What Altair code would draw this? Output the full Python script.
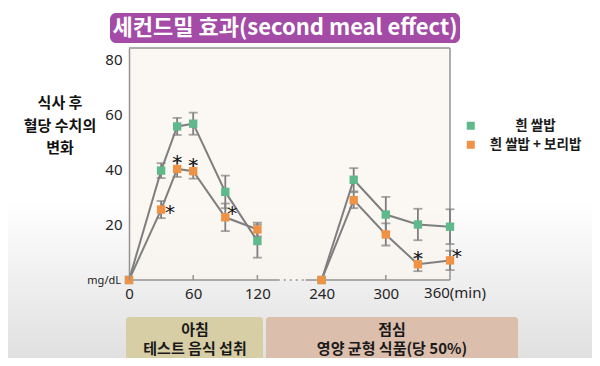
import altair as alt
import pandas as pd

# ---------------- data ----------------
series_names = ["흰 쌀밥", "흰 쌀밥 + 보리밥"]
times = [0, 30, 45, 60, 90, 120, 240, 270, 300, 330, 360]
white_rice = [0, 39.6, 55.6, 56.6, 31.9, 14.1, 0, 36.3, 23.7, 20.1, 19.3]
white_rice_err = [0, 2.7, 3.1, 4.0, 5.9, 6.0, 0, 4.2, 6.4, 5.7, 6.3]
barley_mix = [0, 25.5, 40.2, 39.4, 22.7, 18.3, 0, 28.9, 16.5, 5.7, 7.1]
barley_mix_err = [0, 3.1, 2.9, 2.7, 5.0, 2.5, 0, 2.9, 4.0, 2.5, 3.5]
star_times = [30, 45, 60, 90, 330, 360]
star_place = ["right", "above", "above", "upper", "above", "upper"]
x_tick_values = [0, 60, 120, 240, 300, 360]
x_inner_ticks = [60, 120, 300]
y_tick_values = [20, 40, 60, 80]
title_text = "세컨드밀 효과(second meal effect)"
y_title_lines = ["식사 후", "혈당 수치의", "변화"]
unit_text = "mg/dL"
min_text = "(min)"
meal_breakfast = ["아침", "테스트 음식 섭취"]
meal_lunch = ["점심", "영양 균형 식품(당 50%)"]

# ---------------- style ----------------
W, H = 321, 232
GREEN, ORANGE = "#5fb98a", "#ef9245"
LINE_GRAY = "#7f7f7f"
FRAME_GRAY = "#939393"
GAP_SHIFT = 60          # broken axis: 120..240 compressed
X_DOMAIN = [0, 300]
Y_DOMAIN = [0, 84]
KFONT = "Noto Sans CJK KR"
NFONT = "Noto Sans"

def shift(t):
    return t if t <= 120 else t - GAP_SHIFT

df = pd.DataFrame({
    "t": times * 2,
    "value": white_rice + barley_mix,
    "err": white_rice_err + barley_mix_err,
    "series": [series_names[0]] * len(times) + [series_names[1]] * len(times),
})

calc = dict(
    tx=f"datum.t > 120 ? datum.t - {GAP_SHIFT} : datum.t",
    session="datum.t > 120 ? 'lunch' : 'breakfast'",
    lo="datum.value - datum.err",
    hi="datum.value + datum.err",
)

last_tick = x_tick_values[-1]
x_axis = alt.Axis(values=[shift(v) for v in x_tick_values],
                  labelExpr=(f"datum.value + {GAP_SHIFT} == {last_tick} ? '' : "
                             f"(datum.value > 120 ? '' + (datum.value + {GAP_SHIFT}) : '' + datum.value)"),
                  domain=False, ticks=False, grid=False, title=None, zindex=1, labelFlush=False,
                  labelFontSize=15, labelColor="#262626", labelPadding=6, labelFont=NFONT)
y_axis = alt.Axis(values=y_tick_values, domain=True, domainColor=FRAME_GRAY, domainWidth=1.5,
                  ticks=False, grid=False, title=None, zindex=1, labelFontSize=15, labelColor="#262626",
                  labelPadding=7, labelFont=NFONT)
xs = alt.Scale(domain=X_DOMAIN, nice=False, zero=False)
ys = alt.Scale(domain=Y_DOMAIN, nice=False)

def X(field="tx:Q"):
    return alt.X(field, scale=xs, axis=x_axis)

def Y(field="value:Q"):
    return alt.Y(field, scale=ys, axis=y_axis)

base = alt.Chart(df).transform_calculate(**calc)

one = pd.DataFrame({"k": [0]})

# background gradient (video-like) and plot fill
bg = alt.Chart(one).mark_rect(
    color=alt.Gradient(gradient="linear", x1=0, x2=0, y1=0, y2=1,
                       stops=[alt.GradientStop(offset=0, color="#ffffff"),
                              alt.GradientStop(offset=0.55, color="#ffffff"),
                              alt.GradientStop(offset=1, color="#e0e0e0")])
).encode(x=alt.value(-121), x2=alt.value(463), y=alt.value(-40), y2=alt.value(310))
plot_bg = alt.Chart(one).mark_rect(color="#faf6f0", opacity=0.75).encode(
    x=alt.value(0), x2=alt.value(W), y=alt.value(0), y2=alt.value(H))

# frame (top / right)
frame_top = alt.Chart(one).mark_rule(color=FRAME_GRAY, strokeWidth=1.5).encode(
    x=alt.value(0), x2=alt.value(W), y=alt.value(0))
frame_right = alt.Chart(one).mark_rule(color=FRAME_GRAY, strokeWidth=1.5).encode(
    x=alt.value(W), y=alt.value(0), y2=alt.value(H))

# bottom axis with break
seg_df = pd.DataFrame({"a": [0, 165], "b": [139, 300]})
dot_df = pd.DataFrame({"a": [139], "b": [165]})
bottom_solid = alt.Chart(seg_df).mark_rule(color=FRAME_GRAY, strokeWidth=1.5).encode(
    x=X("a:Q"), x2="b:Q", y=alt.value(H))
bottom_dots = alt.Chart(dot_df).mark_rule(color=FRAME_GRAY, strokeWidth=1.5, strokeDash=[2, 4]).encode(
    x=X("a:Q"), x2="b:Q", y=alt.value(H))
tick_df = pd.DataFrame({"tx": [shift(v) for v in x_inner_ticks]})
inner_ticks = alt.Chart(tick_df).mark_rule(color=FRAME_GRAY, strokeWidth=1.5).encode(
    x=X(), y=alt.value(H), y2=alt.value(H - 5))

# error bars
eb = base.transform_filter("datum.err > 0")
err_rule = eb.mark_rule(color=LINE_GRAY, strokeWidth=1.8).encode(x=X(), y=Y("lo:Q"), y2="hi:Q")
cap_lo = eb.mark_tick(color=LINE_GRAY, orient="horizontal", size=9, thickness=1.8).encode(x=X(), y=Y("lo:Q"))
cap_hi = eb.mark_tick(color=LINE_GRAY, orient="horizontal", size=9, thickness=1.8).encode(x=X(), y=Y("hi:Q"))

# lines
lines = base.mark_line(color=LINE_GRAY, strokeWidth=2).encode(
    x=X(), y=Y(), detail=["series:N", "session:N"])

# points
points = base.mark_point(shape="square", filled=True, size=70, opacity=1).encode(
    x=X(), y=Y(),
    color=alt.Color("series:N",
                    scale=alt.Scale(domain=series_names, range=[GREEN, ORANGE]),
                    legend=alt.Legend(orient="none", legendX=335, legendY=71, title=None,
                                      symbolType="square", symbolSize=64, symbolStrokeWidth=0,
                                      labelFontSize=13.5, labelFontWeight="bold", labelFont=KFONT,
                                      labelColor="#1a1a1a", labelAlign="center", labelOffset=58,
                                      rowPadding=4, padding=0, zindex=1)))

# significance stars
star_df = pd.DataFrame({
    "t": star_times,
    "place": star_place,
    "value": [barley_mix[times.index(t)] for t in star_times],
    "err": [barley_mix_err[times.index(t)] for t in star_times],
    "s": ["*"] * len(star_times),
})
stars = alt.Chart(star_df).transform_calculate(**{k: calc[k] for k in ("tx", "hi")})
star_style = dict(font="DejaVu Sans", fontSize=20, color="#111111", baseline="alphabetic")
stars_above = stars.transform_filter("datum.place == 'above'").mark_text(dy=8, **star_style).encode(
    x=X(), y=Y("hi:Q"), text="s:N")
stars_right = stars.transform_filter("datum.place == 'right'").mark_text(dx=9, dy=9, **star_style).encode(
    x=X(), y=Y(), text="s:N")
stars_upper = stars.transform_filter("datum.place == 'upper'").mark_text(dx=7, dy=3, **star_style).encode(
    x=X(), y=Y(), text="s:N")

# title banner
title_df = pd.DataFrame({"label": [title_text]})
title_box = alt.Chart(title_df).mark_rect(color="#a34ba6", cornerRadius=6).encode(
    x=alt.value(-19), x2=alt.value(331), y=alt.value(-35), y2=alt.value(-5))
title_txt = alt.Chart(title_df).mark_text(font=KFONT, fontSize=22, fontWeight="bold", color="white",
                                          baseline="middle", align="center").encode(
    x=alt.value(156), y=alt.value(-20), text="label:N")

# y title
yt_df = pd.DataFrame({"label": ["\n".join(y_title_lines)]})
y_title = alt.Chart(yt_df).mark_text(font=KFONT, fontSize=15, fontWeight="bold", color="#111111",
                                     align="center", baseline="middle", lineBreak="\n",
                                     lineHeight=22.5).encode(
    x=alt.value(-69), y=alt.value(55), text="label:N")

unit_df = pd.DataFrame({"label": [unit_text]})
unit = alt.Chart(unit_df).mark_text(font=NFONT, fontSize=11, color="#222222", align="right",
                                    baseline="middle").encode(
    x=alt.value(-8), y=alt.value(233), text="label:N")

# last x label with unit, e.g. "360(min)"
min_df = pd.DataFrame({"label": [f"{last_tick}{min_text}"], "tx": [shift(last_tick)]})
min_lbl = alt.Chart(min_df).mark_text(font=NFONT, fontSize=15, color="#262626", align="center",
                                      baseline="top", dx=5).encode(
    x=X(), y=alt.value(H + 6), text="label:N")

# meal boxes
mb_df = pd.DataFrame({"label": ["\n".join(meal_breakfast)]})
ml_df = pd.DataFrame({"label": ["\n".join(meal_lunch)]})
box_b = alt.Chart(mb_df).mark_rect(color="#d8cea6", cornerRadius=3).encode(
    x=alt.value(-3), x2=alt.value(134), y=alt.value(269), y2=alt.value(314))
box_l = alt.Chart(ml_df).mark_rect(color="#dbbeac", cornerRadius=3).encode(
    x=alt.value(137), x2=alt.value(389), y=alt.value(269), y2=alt.value(314))
meal_style = dict(font=KFONT, fontSize=15, fontWeight="bold", color="#1a1a1a", align="center",
                  baseline="middle", lineBreak="\n", lineHeight=19)
txt_b = alt.Chart(mb_df).mark_text(**meal_style).encode(x=alt.value(66), y=alt.value(282), text="label:N")
txt_l = alt.Chart(ml_df).mark_text(**meal_style).encode(x=alt.value(263), y=alt.value(282), text="label:N")

chart = alt.layer(
    bg, plot_bg, frame_top, frame_right, bottom_solid, bottom_dots, inner_ticks,
    err_rule, cap_lo, cap_hi, lines, points, stars_above, stars_right, stars_upper,
    title_box, title_txt, y_title, unit, min_lbl, box_b, box_l, txt_b, txt_l,
).properties(
    width=W, height=H,
    padding={"left": 121, "top": 40, "right": 142, "bottom": 78},
    autosize=alt.AutoSizeParams(type="none"),
).configure_view(stroke=None)

chart.save("out.html", embed_options={"renderer": "svg", "actions": False})
